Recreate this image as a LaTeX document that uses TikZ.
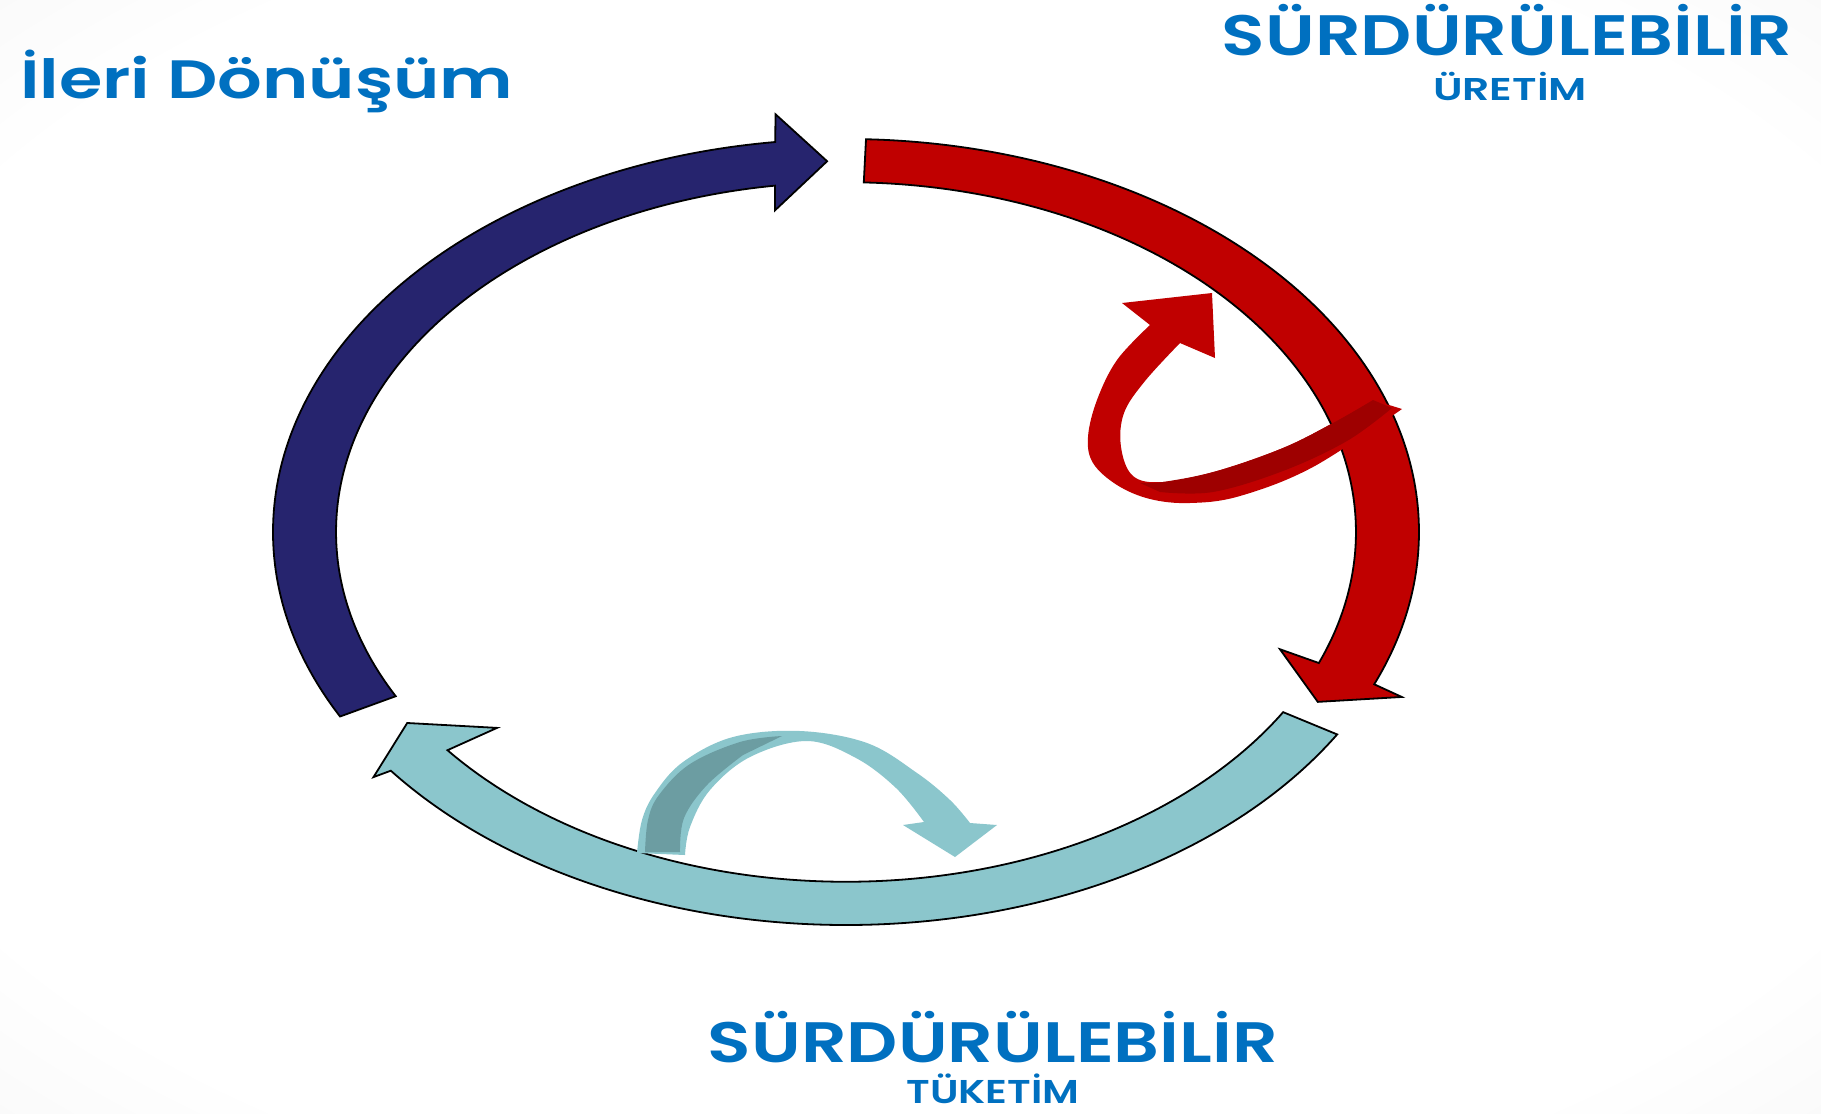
\documentclass[tikz,border=0pt]{standalone}
\usepackage{fontspec}
\usepackage{graphicx}
\newfontfamily\pop{Poppins SemiBold}
\definecolor{navyc}{RGB}{38,36,110}
\definecolor{redc}{RGB}{192,0,0}
\definecolor{darkred}{RGB}{158,0,0}
\definecolor{tealc}{RGB}{139,198,204}
\definecolor{darkteal}{RGB}{108,157,162}
\definecolor{txtblue}{RGB}{0,112,192}
\pgfdeclareradialshading{bgshade}{\pgfpoint{0bp}{0bp}}{color(0bp)=(white); color(30bp)=(white); color(50bp)=(black!7); color(72bp)=(black!9)}
\begin{document}
\begin{tikzpicture}[x=1pt,y=1pt,
  bigarrow/.style={draw=black, line width=1.8pt, line join=miter},
  lbl/.style={text=txtblue, inner sep=0pt, anchor=base}]
\shade[shading=bgshade] (0,0) rectangle (1821,-1114);
\useasboundingbox (0,0) rectangle (1821,-1114);
% ring of three arrows
\begin{scope}[shift={(846,-532)}, xscale=573, yscale=393]
\filldraw[bigarrow, fill=navyc] (208:1) arc[start angle=208, end angle=97.1, radius=1]
  -- (96.6:1.07) -- (92:0.944) -- (98.6:0.828) -- (98:0.89)
  arc[start angle=98, end angle=208, radius=0.89] -- cycle;
\filldraw[bigarrow, fill=redc] (88:1) arc[start angle=88, end angle=-22.8, radius=1]
  -- (-23.4:1.057) -- (-27.7:0.93) -- (-21.5:0.814) -- (-22:0.89)
  arc[start angle=-22, end angle=88, radius=0.89] -- cycle;
\filldraw[bigarrow, fill=tealc] (-31:1) arc[start angle=-31, end angle=-142.6, radius=1]
  -- (-142.9:1.034) -- (-147.6:0.907) -- (-140.7:0.787) -- (-141.4:0.89)
  arc[start angle=-141.4, end angle=-31, radius=0.89] -- cycle;
\end{scope}
\begin{scope}[yscale=-1]
% red looping ribbon arrow
\fill[redc] plot[smooth, tension=0.6] coordinates {(1150,325) (1117,360) (1097,400) (1088,437) (1093,463) (1117,485) (1150,499) (1190,503) (1240,496) (1313,467) (1402,409)}
  -- plot[smooth, tension=0.6] coordinates {(1373,400) (1333,423) (1283,448) (1217,471) (1163,482) (1133,476) (1121,447) (1124,413) (1145,381) (1180,343)}
  -- (1215,358) -- (1212,293) -- (1122,303) -- cycle;
\fill[darkred] plot[smooth, tension=0.6] coordinates {(1373,400) (1333,423) (1283,448) (1217,471) (1163,482) (1140,483)}
  -- plot[smooth, tension=0.6] coordinates {(1160,492) (1213,492) (1283,471) (1347,441) (1392,408)} -- cycle;
% teal jumping arrow
\fill[tealc] plot[smooth, tension=0.6] coordinates {(637,853) (642,820) (655,793) (683,762) (733,737) (800,731) (867,743) (917,773) (950,800) (970,823)}
  -- (997,825) -- (955,857) -- (903,825)
  -- plot[smooth, tension=0.6] coordinates {(924,822) (896,788) (856,758) (807,741) (750,757) (710,790) (690,827) (685,855)} -- cycle;
\fill[darkteal] plot[smooth, tension=0.6] coordinates {(645,852) (648,820) (659,795) (690,764) (740,742) (782,736)}
  -- plot[smooth, tension=0.6] coordinates {(743,755) (707,785) (684,818) (680,852)} -- cycle;
% labels
\node[lbl, anchor=base west, font=\pop\fontsize{54}{60}\selectfont] (ileri) at (20,98) {\resizebox{493pt}{\height}{İleri Dönüşüm}};
\node[lbl, font=\pop\fontsize{57}{64}\selectfont] (surd1) at (1507,55) {\resizebox{570pt}{\height}{SÜRDÜRÜLEBİLİR}};
\node[lbl, font=\pop\fontsize{31.5}{36}\selectfont] (uretim) at (1510,100) {\resizebox{154pt}{\height}{ÜRETİM}};
\node[lbl, font=\pop\fontsize{57}{64}\selectfont] (surd2) at (993,1062) {\resizebox{570pt}{\height}{SÜRDÜRÜLEBİLİR}};
\node[lbl, font=\pop\fontsize{33}{38}\selectfont] (tuketim) at (993,1103) {\resizebox{173pt}{\height}{TÜKETİM}};
\end{scope}
\end{tikzpicture}
\end{document}
